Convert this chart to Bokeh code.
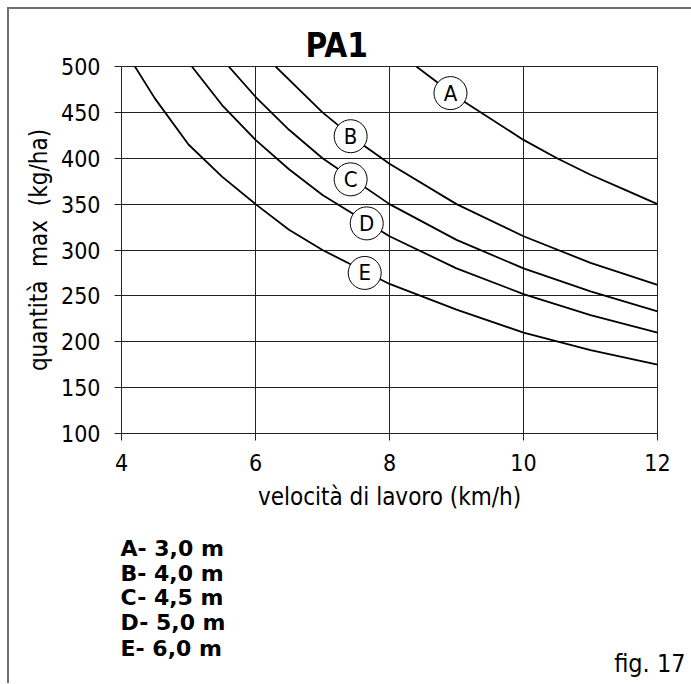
from bokeh.plotting import figure
from bokeh.models import Range1d, FixedTicker
from bokeh.layouts import column
from bokeh.core.properties import value
from bokeh.embed import file_html
from bokeh.resources import INLINE

# ---- data ----
speed_A = [8.4, 9.0, 10.0, 10.5, 11.0, 11.5, 12.0]
qty_A = [500, 467, 420, 400, 382, 366, 350]

speed_B = [6.3, 7.0, 7.5, 8.0, 9.0, 10.0, 11.0, 12.0]
qty_B = [500, 450, 420, 394, 350, 315, 286, 262]

speed_C = [5.6, 6.0, 6.5, 7.0, 8.0, 9.0, 10.0, 11.0, 12.0]
qty_C = [500, 467, 431, 400, 350, 311, 280, 255, 233]

speed_D = [5.05, 5.5, 6.0, 6.5, 7.0, 8.0, 9.0, 10.0, 11.0, 12.0]
qty_D = [500, 458, 420, 388, 360, 315, 280, 252, 229, 210]

speed_E = [4.2, 4.5, 5.0, 5.5, 6.0, 6.5, 7.0, 8.0, 9.0, 10.0, 11.0, 12.0]
qty_E = [500, 465, 415, 380, 350, 322, 300, 263, 235, 210, 191, 175]

curve_letters = ["A", "B", "C", "D", "E"]
marker_speed = [8.91, 7.42, 7.42, 7.66, 7.63]
marker_qty = [471, 424, 377, 329, 275]

legend_labels = ["A- 3,0 m", "B- 4,0 m", "C- 4,5 m", "D- 5,0 m", "E- 6,0 m"]
figure_caption = "fig. 17"
x_ticks = [4, 6, 8, 10, 12]
y_ticks = [100, 150, 200, 250, 300, 350, 400, 450, 500]

FONT = "DejaVu Sans Condensed"
W = 682

# ---------------- main chart ----------------
p = figure(width=W, height=514, output_backend="svg", toolbar_location=None,
           x_range=Range1d(4, 12), y_range=Range1d(100, 500),
           min_border_left=112, min_border_right=34, min_border_top=57,
           min_border_bottom=90)
p.frame_align = False

p.background_fill_color = "white"
p.border_fill_color = "white"
p.outline_line_color = "#222222"
p.outline_line_width = 1

p.title.text = "PA1"
p.title.align = "left"
p.title.offset = 184
p.title.text_font = FONT
p.title.text_font_size = "33px"
p.title.text_font_style = "bold"
p.title.text_color = "black"
p.title.standoff = 4

for ax in (p.xaxis[0], p.yaxis[0]):
    ax.major_tick_in = 0
    ax.major_tick_out = 7
    ax.minor_tick_line_color = None
    ax.axis_line_color = "#222222"
    ax.major_tick_line_color = "#222222"
    ax.major_label_text_font = FONT
    ax.major_label_text_font_size = "23px"
    ax.major_label_text_color = "black"
    ax.axis_label_text_font = FONT
    ax.axis_label_text_font_size = "24px"
    ax.axis_label_text_font_style = "normal"
    ax.axis_label_text_color = "black"

p.xaxis.ticker = FixedTicker(ticks=x_ticks)
p.yaxis.ticker = FixedTicker(ticks=y_ticks)
p.xaxis.major_label_standoff = 13
p.yaxis.major_label_standoff = 14
p.xaxis.axis_label = "velocità di lavoro (km/h)"
p.yaxis.axis_label = "quantità \u00a0max \u00a0(kg/ha)"
p.xaxis.axis_label_standoff = 9
p.yaxis.axis_label_standoff = 5

p.xgrid.grid_line_color = "#222222"
p.ygrid.grid_line_color = "#222222"
p.xgrid.grid_line_width = 1
p.ygrid.grid_line_width = 1

for xs, ys in [(speed_A, qty_A), (speed_B, qty_B), (speed_C, qty_C),
               (speed_D, qty_D), (speed_E, qty_E)]:
    p.line(xs, ys, line_color="black", line_width=1.8)

p.scatter(marker_speed, marker_qty, size=33, marker="circle",
          fill_color="white", line_color="black", line_width=1)
p.text(marker_speed, marker_qty, text=curve_letters, text_align="center",
       text_baseline="middle", text_font=value(FONT), text_font_size="22px",
       text_color="black")

# ---------------- caption area (legend of widths + figure number) ----------------
H2 = 160
q = figure(width=W, height=H2, output_backend="svg", toolbar_location=None,
           x_range=Range1d(0, W), y_range=Range1d(0, H2),
           x_axis_location=None, y_axis_location=None, min_border=0)
q.frame_align = False
q.outline_line_color = None
q.grid.visible = False
q.background_fill_color = "white"
q.border_fill_color = "white"

legend_x = [111] * len(legend_labels)
legend_y = [135, 110, 86, 61, 35]
q.text(legend_x, legend_y, text=legend_labels, text_align="left",
       text_baseline="middle", text_font=value("DejaVu Sans"),
       text_font_size="22px", text_font_style="bold", text_color="black")
q.text([676], [20], text=[figure_caption], text_align="right",
       text_baseline="middle", text_font=value(FONT),
       text_font_size="25px", text_color="black")

layout = column(p, q, spacing=0)
layout.styles = {"margin-left": "7px", "margin-top": "7px",
                 "border-top": "2px solid #707070", "border-left": "2px solid #707070"}

open("out.html", "w").write(file_html(layout, INLINE))
